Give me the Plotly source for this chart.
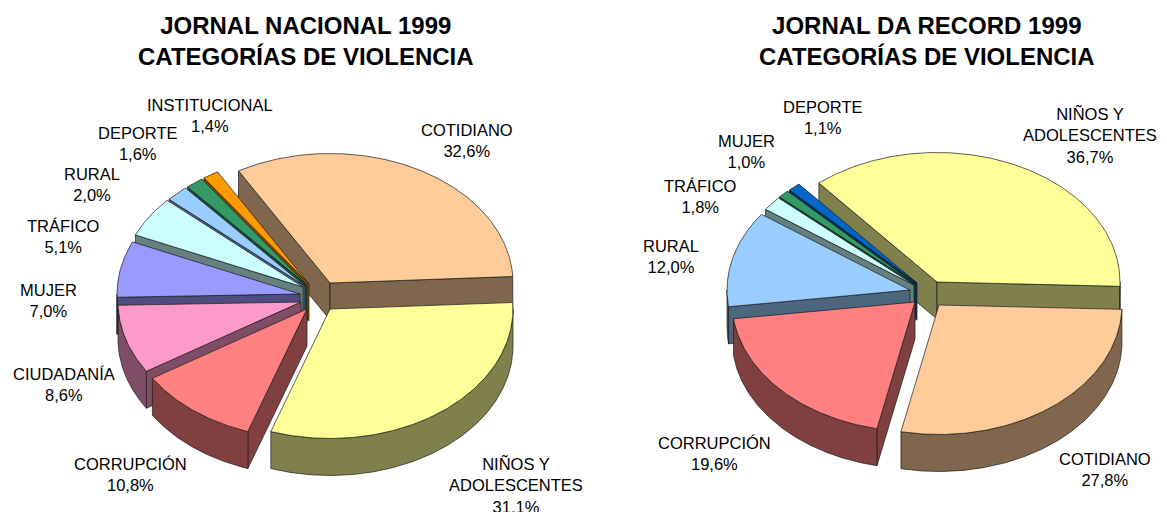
import math
import plotly.graph_objects as go

# ---- data ----
left_title = "JORNAL NACIONAL 1999<br>CATEGORÍAS DE VIOLENCIA"
left_categories = ["COTIDIANO", "NIÑOS Y<br>ADOLESCENTES", "CORRUPCIÓN", "CIUDADANÍA", "MUJER",
                   "TRÁFICO", "RURAL", "DEPORTE", "INSTITUCIONAL"]
left_values = [32.6, 31.1, 10.8, 8.6, 7.0, 5.1, 2.0, 1.6, 1.4]

right_title = "JORNAL DA RECORD 1999<br>CATEGORÍAS DE VIOLENCIA"
right_categories = ["NIÑOS Y<br>ADOLESCENTES", "COTIDIANO", "CORRUPCIÓN", "RURAL", "TRÁFICO",
                    "MUJER", "DEPORTE"]
right_values = [36.7, 27.8, 19.6, 12.0, 1.8, 1.0, 1.1]

# ---- styles ----
left_colors = ["#FFCC99", "#FFFF99", "#FF8080", "#FF99CC", "#9999FF", "#CCFFFF", "#99CCFF", "#339966", "#FF9900"]
left_sides = ["#80664D", "#80804D", "#804040", "#804D66", "#4D4D80", "#668080", "#4D6680", "#1A4D33", "#804D00"]
right_colors = ["#FFFF99", "#FFCC99", "#FF8080", "#99CCFF", "#CCFFFF", "#339966", "#0066CC"]
right_sides = ["#80804D", "#80664D", "#804040", "#4D6680", "#668080", "#1A4D33", "#003366"]

# ---- layout of the tilted, exploded pies (pixels) ----
RX, RY, DEPTH = 183.0, 129.5, 37.0
left_start, right_start = -30.0, -40.2
left_apex = [(330, 283), (330, 309), (307, 309), (301, 302), (300, 294), (303, 287), (305, 286), (307, 285), (309, 284)]
right_apex = [(937, 282), (939, 305), (915, 302), (910, 290), (914, 285), (915, 284), (917, 283)]
left_order = [0, 8, 7, 6, 5, 4, 3, 2, 1]
right_order = [0, 6, 5, 4, 3, 2, 1]
left_label_pos = [(467, 140.5), (516, 484.5), (130, 474.5), (64, 384.5), (48, 300), (63, 236.5), (92, 184.5), (137, 143.5), (210, 115.5)]
right_label_pos = [(1090, 134.5), (1105, 469.5), (714, 453.5), (671, 256.5), (700, 196.5), (746, 151.5), (822, 117.5)]
left_title_pos = (306, 41)
right_title_pos = (927, 41)

LINE = dict(color="#1a1a1a", width=0.7)
fig = go.Figure()


def poly(xs, ys, fill):
    fig.add_trace(go.Scatter(x=xs, y=ys, mode="lines", fill="toself", fillcolor=fill, line=LINE,
                             hoverinfo="skip", showlegend=False))


def arc(cx, cy, a0, a1):
    n = max(3, int(a1 - a0) * 2)
    ang = [a0 + (a1 - a0) * k / n for k in range(n + 1)]
    return ([cx + RX * math.sin(math.radians(a)) for a in ang],
            [cy - RY * math.cos(math.radians(a)) for a in ang])


def draw_pie(values, colors, sides, apexes, order, start):
    total = sum(values)
    angles = [start]
    for v in values:
        angles.append(angles[-1] + v / total * 360.0)
    for i in order:
        cx, cy = apexes[i]
        a0, a1 = angles[i], angles[i + 1]
        ax, ay = arc(cx, cy, a0, a1)
        # radial cut faces: only those turned towards the viewer
        if math.sin(math.radians(a0)) < 0:
            poly([cx, ax[0], ax[0], cx, cx], [cy, ay[0], ay[0] + DEPTH, cy + DEPTH, cy], sides[i])
        if math.sin(math.radians(a1)) > 0:
            poly([cx, ax[-1], ax[-1], cx, cx], [cy, ay[-1], ay[-1] + DEPTH, cy + DEPTH, cy], sides[i])
        # outer wall: only the part of the rim that faces the viewer
        w0, w1 = max(a0, 90.0), min(a1, 270.0)
        if w1 > w0:
            wx, wy = arc(cx, cy, w0, w1)
            poly(wx + wx[::-1] + [wx[0]], wy + [y + DEPTH for y in wy[::-1]] + [wy[0]], sides[i])
        # top face
        poly([cx] + ax + [cx], [cy] + ay + [cy], colors[i])


def label_text(name, v):
    return f"{name}<br>{v:.1f}%".replace(".", ",")


draw_pie(left_values, left_colors, left_sides, left_apex, left_order, left_start)
draw_pie(right_values, right_colors, right_sides, right_apex, right_order, right_start)

ann = []
for names, vals, pos in ((left_categories, left_values, left_label_pos),
                         (right_categories, right_values, right_label_pos)):
    for name, v, (x, y) in zip(names, vals, pos):
        ann.append(dict(x=x, y=y, xref="x", yref="y", text=label_text(name, v), showarrow=False,
                        align="center", xanchor="center", yanchor="middle",
                        font=dict(family="Liberation Sans", size=16.5, color="black")))
for t, (x, y) in ((left_title, left_title_pos), (right_title, right_title_pos)):
    ann.append(dict(x=x, y=y, xref="x", yref="y", text=f"<b>{t.replace('<br>', '</b><br><b>')}</b>",
                    showarrow=False, align="center", xanchor="center", yanchor="middle",
                    font=dict(family="Liberation Sans", size=24, color="black")))

fig.update_layout(width=1167, height=512, margin=dict(l=0, r=0, t=0, b=0), autosize=False,
                  paper_bgcolor="white", plot_bgcolor="white", annotations=ann,
                  xaxis=dict(range=[0, 1167], visible=False, fixedrange=True),
                  yaxis=dict(range=[512, 0], visible=False, fixedrange=True))
fig.write_html("out.html", config=dict(displayModeBar=False),
               post_script="document.body.style.margin='0';document.documentElement.style.overflow='hidden';")
